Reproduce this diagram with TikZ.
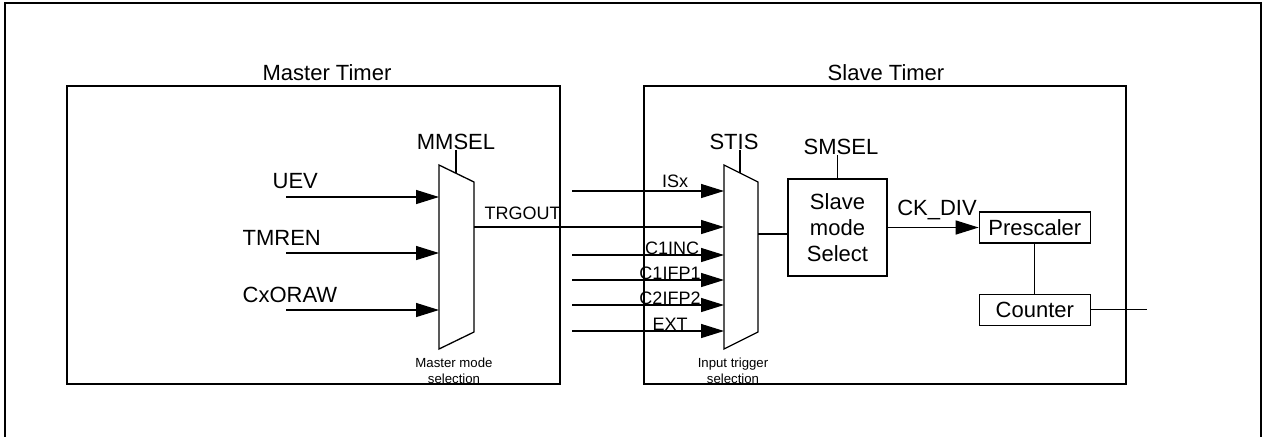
\documentclass[tikz,border=0pt]{standalone}
\usepackage{fontspec}
\setmainfont{Liberation Sans}
\usetikzlibrary{arrows.meta,positioning}

\begin{document}
\begin{tikzpicture}[
x=0.5pt, y=-0.5pt,
line width=0.65pt,
big/.style={font=\fontsize{11}{13}\selectfont, inner sep=0pt},
sig/.style={font=\fontsize{9}{10}\selectfont, inner sep=0pt},
note/.style={font=\fontsize{6.6}{8}\selectfont, inner sep=0pt, align=center},
block/.style={draw, font=\fontsize{11}{13}\selectfont, align=center, inner sep=0pt},
timer/.style={draw, inner sep=0pt},
frame/.style={line width=1.3pt},
mux/.style={draw},
arrow/.style={-{Triangle[length=11.5pt,width=7pt]}}
]
\useasboundingbox (0,0) rectangle (1268,436);

% outer frame
\draw[frame] (5,440) -- (5,3) -- (1261,3) -- (1261,440);

% timers
\node[timer, minimum width=246.5pt, minimum height=149pt] (master) at (313.5,235) {};
\node[timer, minimum width=241pt, minimum height=149pt] (slave) at (885,235) {};
\node[big, anchor=base] (mtlab) at (327,80) {Master Timer};
\node[big, anchor=base] (stlab) at (886,80) {Slave Timer};

% master mode mux
\coordinate (mmA) at (439,165);
\coordinate (mmB) at (474,182);
\coordinate (mmC) at (474,332);
\coordinate (mmD) at (439,349);
\draw[mux] (mmA) -- (mmB) -- (mmC) -- (mmD) -- cycle;
\coordinate (mmsel) at (456,173);
\node[big, anchor=south] (mmlab) at (456,150) {MMSEL};
\draw (mmsel) -- (mmlab.south);
\node[note] (mmnote) at (454,371) {Master mode\\selection};

\coordinate (uev) at (286,197);
\coordinate (tmren) at (286,253);
\coordinate (cxo) at (286,310);
\node[big, anchor=base west] (uevlab) at (272,188) {UEV};
\node[big, anchor=base west] (tmrenlab) at (242,245) {TMREN};
\node[big, anchor=base west] (cxolab) at (242,302) {CxORAW};
\draw[arrow] (uev) -- (uev -| mmA);
\draw[arrow] (tmren) -- (tmren -| mmA);
\draw[arrow] (cxo) -- (cxo -| mmA);

% input trigger mux
\coordinate (stA) at (724,165);
\coordinate (stB) at (758,182);
\coordinate (stC) at (758,332);
\coordinate (stD) at (724,349);
\draw[mux] (stA) -- (stB) -- (stC) -- (stD) -- cycle;
\coordinate (stsel) at (740,173);
\node[big, anchor=south] (stislab) at (734,150) {STIS};
\draw (stsel) -- (stsel |- stislab.south);
\node[note] (stnote) at (733,371) {Input trigger\\selection};

\coordinate (trg) at (474,227);
\node[sig, anchor=base west] (trglab) at (484,219) {TRGOUT};
\draw[arrow] (trg) -- (trg -| stA);

\coordinate (isx) at (572,191);
\coordinate (c1inc) at (572,255);
\coordinate (c1ifp1) at (572,280);
\coordinate (c2ifp2) at (572,305);
\coordinate (ext) at (572,331);
\node[sig, anchor=base] (isxlab) at (675,187) {ISx};
\node[sig, anchor=base] (c1inclab) at (672,254) {C1INC};
\node[sig, anchor=base] (c1ifp1lab) at (670,279) {C1IFP1};
\node[sig, anchor=base] (c2ifp2lab) at (670,304) {C2IFP2};
\node[sig, anchor=base] (extlab) at (670,330) {EXT};
\draw[arrow] (isx) -- (isx -| stA);
\draw[arrow] (c1inc) -- (c1inc -| stA);
\draw[arrow] (c1ifp1) -- (c1ifp1 -| stA);
\draw[arrow] (c2ifp2) -- (c2ifp2 -| stA);
\draw[arrow] (ext) -- (ext -| stA);

% slave side
\node[block, minimum width=49.5pt, minimum height=48.5pt] (sms) at (837.5,227.5) {Slave\\mode\\Select};
\node[big, anchor=base] (smlab) at (841,154) {SMSEL};
\draw (sms.north) -- (sms.north |- smlab.south);
\coordinate (stout) at (758,234);
\draw (stout) -- (stout -| sms.west);

\node[block, minimum width=55.5pt, minimum height=15.5pt, right=45.5pt of sms] (pre) {Prescaler};
\node[block, minimum width=55.5pt, minimum height=15.5pt, below=25pt of pre] (cnt) {Counter};
\node[big, anchor=base] (cklab) at (937,215) {CK\_DIV};
\draw[arrow] (sms) -- (pre);
\draw (pre) -- (cnt);
\coordinate (cntout) at (1147,308);
\draw (cnt.east) -- (cnt.east -| cntout);
\end{tikzpicture}
\end{document}
